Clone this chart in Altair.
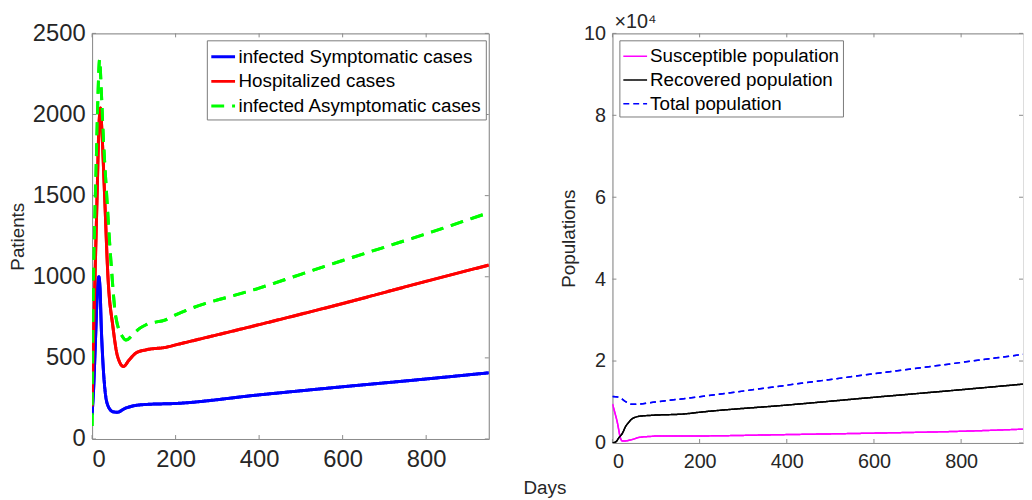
import altair as alt
import pandas as pd

FONT = "Liberation Sans"
AXC = "#8a8a8a"
TXT = "#262626"

# ---------------- Left panel data (Patients) ----------------
sym_days = [0, 4, 8, 12, 16, 19, 22, 26, 30, 38, 50, 60, 80, 100, 130, 200, 400, 600, 800, 950]
sym_vals = [150, 330, 600, 870, 1000, 930, 690, 470, 325, 205, 168, 165, 190, 205, 213, 219, 272, 322, 370, 408]

hosp_days = [0, 6, 12, 16, 20, 24, 30, 38, 50, 61, 75, 89, 105, 130, 176, 200, 400, 600, 800, 950]
hosp_vals = [200, 890, 1500, 1900, 2040, 1870, 1500, 1000, 690, 510, 447, 488, 530, 550, 565, 580, 705, 835, 972, 1072]

asym_days = [0, 2, 6, 10, 14, 18, 22, 26, 35, 45, 57, 73, 81, 100, 113, 130, 176, 200, 400, 600, 800, 950]
asym_vals = [80, 690, 1300, 1710, 2110, 2340, 2150, 1910, 1500, 1100, 750, 630, 610, 650, 680, 705, 735, 765, 930, 1100, 1265, 1395]

left_names = ["infected Symptomatic cases", "Hospitalized cases", "infected Asymptomatic cases"]
left_colors = ["#0000FF", "#FF0000", "#00FF00"]
left_dashes = [[1, 0], [1, 0], [13, 8]]
left_xticks = [0, 200, 400, 600, 800]
left_yticks = [0, 500, 1000, 1500, 2000, 2500]

# ---------------- Right panel data (Populations, in units of 10^4) ----------------
sus_days = [0, 5, 11, 19, 23, 30, 53, 60, 91, 98, 166, 212, 393, 600, 800, 950]
sus_vals = [0.95, 0.76, 0.51, 0.10, 0.045, 0.05, 0.11, 0.135, 0.162, 0.168, 0.170, 0.172, 0.203, 0.240, 0.285, 0.340]

rec_days = [0, 8, 15, 23, 30, 38, 45, 53, 60, 90, 166, 200, 400, 600, 800, 950]
rec_vals = [0.0, 0.03, 0.13, 0.24, 0.40, 0.51, 0.59, 0.63, 0.65, 0.675, 0.71, 0.75, 0.925, 1.115, 1.30, 1.445]

tot_days = [0, 15, 30, 45, 60, 98, 150, 200, 400, 600, 800, 950]
tot_vals = [1.135, 1.115, 1.01, 0.945, 0.95, 1.00, 1.065, 1.13, 1.41, 1.69, 1.965, 2.175]

right_names = ["Susceptible population", "Recovered population", "Total population"]
right_colors = ["#FF00FF", "#000000", "#0000FF"]
right_dashes = [[1, 0], [1, 0], [6, 4]]
right_xticks = [0, 200, 400, 600, 800]
right_yticks = [0, 2, 4, 6, 8, 10]


def frame(names, dayss, valss):
    parts = []
    for n, d, v in zip(names, dayss, valss):
        parts.append(pd.DataFrame({"day": d, "value": v, "series": n}))
    return pd.concat(parts, ignore_index=True)


left_df = frame(left_names, [sym_days, hosp_days, asym_days], [sym_vals, hosp_vals, asym_vals])
right_df = frame(right_names, [sus_days, rec_days, tot_days], [sus_vals, rec_vals, tot_vals])

TICK = 4


def panel(df, names, colors, dashes, xdom, ydom, xvals, yvals, width, height,
          lw, lab_size, ytitle, legx, legy, right_border=True):
    xscale = alt.Scale(domain=xdom, nice=False, zero=False)
    yscale = alt.Scale(domain=ydom, nice=False, zero=False)

    legend = alt.Legend(
        title=None, orient="none", legendX=legx, legendY=legy, direction="vertical",
        labelFontSize=19, labelFont=FONT, labelColor="#000000", labelLimit=500,
        symbolType="stroke", symbolSize=576, symbolStrokeWidth=lw,
        strokeColor="#7a7a7a", fillColor="white", padding=3, rowPadding=1,
        labelOffset=2,
    )

    yaxis = alt.Axis(orient="left", values=yvals, ticks=False, grid=False,
                     domain=True, domainColor=AXC, labelFontSize=lab_size, labelFont=FONT,
                     labelColor=TXT, labelPadding=7, title=ytitle, titleFont=FONT,
                     titleFontSize=19, titleFontWeight="normal", titleColor=TXT,
                     titlePadding=5, format="d")
    xaxis = alt.Axis(orient="bottom", values=xvals, ticks=False, grid=False,
                     domain=True, domainColor=AXC, labelFontSize=lab_size, labelFont=FONT,
                     labelColor=TXT, labelPadding=9, title=None, format="d")
    top_axis = alt.Axis(orient="top", values=xvals, labels=False, ticks=False, grid=False,
                        domain=True, domainColor=AXC, title=None)
    right_axis = alt.Axis(orient="right", values=yvals, labels=False, ticks=False, grid=False,
                          domain=True, domainColor=AXC, title=None)

    def line_layer(xax, yax):
        return alt.Chart(df).mark_line(interpolate="monotone", strokeWidth=lw, clip=True).encode(
            x=alt.X("day:Q", scale=xscale, axis=xax),
            y=alt.Y("value:Q", scale=yscale, axis=yax),
            color=alt.Color("series:N", scale=alt.Scale(domain=names, range=colors),
                            legend=legend, sort=names),
            strokeDash=alt.StrokeDash("series:N", scale=alt.Scale(domain=names, range=dashes),
                                      legend=legend, sort=names),
            detail="series:N",
        )

    xt = alt.Chart(pd.DataFrame({"xtick": xvals})).mark_rule(color=AXC, strokeWidth=1)
    yt = alt.Chart(pd.DataFrame({"ytick": yvals})).mark_rule(color=AXC, strokeWidth=1)
    xenc = alt.X("xtick:Q", scale=xscale, axis=None)
    yenc = alt.Y("ytick:Q", scale=yscale, axis=None)

    layers = [
        # inward ticks: bottom, top, left, right
        xt.encode(x=xenc, y=alt.value(height - TICK), y2=alt.value(height)),
        xt.encode(x=xenc, y=alt.value(0), y2=alt.value(TICK)),
        yt.encode(y=yenc, x=alt.value(0), x2=alt.value(TICK)),
        yt.encode(y=yenc, x=alt.value(width - TICK), x2=alt.value(width)),
        # box border on top (and right when it is inside the picture)
        line_layer(top_axis, right_axis if right_border else None),
        # data lines with the labelled axes
        line_layer(xaxis, yaxis),
    ]
    return (alt.layer(*layers)
            .resolve_axis(x="independent", y="independent")
            .properties(width=width, height=height))


left = panel(left_df, left_names, left_colors, left_dashes,
             [0, 950], [0, 2500], left_xticks, left_yticks,
             401, 410, 3, 24, "Patients", 116, 7)

right = panel(right_df, right_names, right_colors, right_dashes,
              [0, 942], [0, 10], right_xticks, right_yticks,
              415, 414, 1.5, 20, "Populations", 7, 7,
              right_border=False).properties(
    title=alt.TitleParams("×10⁴", anchor="start", frame="group", fontSize=20, font=FONT,
                          color=TXT, fontWeight="normal", dx=2, offset=2, dy=11)
)

chart = (alt.hconcat(left, right, spacing=125, bounds="flush")
         .resolve_scale(color="independent", strokeDash="independent")
         .resolve_legend(color="independent", strokeDash="independent")
         .properties(padding={"left": 0, "top": 1, "right": 0, "bottom": 0},
                     background="white",
                     title=alt.TitleParams("Days", orient="bottom", anchor="start",
                                           frame="bounds", fontSize=19, font=FONT,
                                           color=TXT, fontWeight="normal",
                                           dx=521, offset=7))
         .configure_view(stroke=None)
         .configure(font=FONT))

chart.save("out.html", embed_options={"renderer": "svg", "actions": False})
